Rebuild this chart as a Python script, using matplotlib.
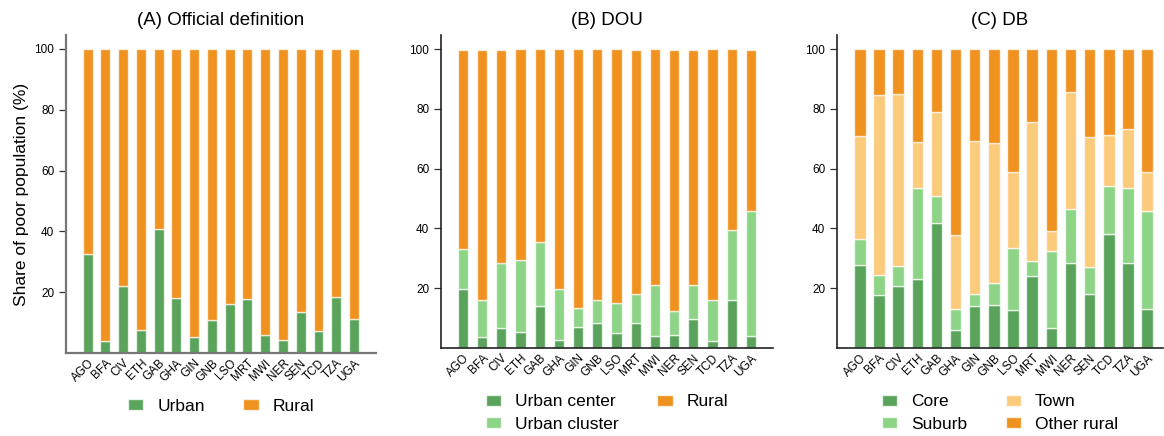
import numpy as np
import matplotlib.pyplot as plt

plt.rcParams["font.family"] = ["Liberation Sans", "DejaVu Sans"]

countries = ["AGO", "BFA", "CIV", "ETH", "GAB", "GHA", "GIN", "GNB",
             "LSO", "MRT", "MWI", "NER", "SEN", "TCD", "TZA", "UGA"]

# (A) official definition
urban_a = [32.7, 3.8, 22.2, 7.7, 40.7, 18.0, 5.2, 10.8,
           16.0, 17.7, 5.8, 4.2, 13.5, 7.1, 18.4, 11.1]
rural_a = [100 - u for u in urban_a]

# (B) degree of urbanisation
center_b = [19.8, 3.8, 6.6, 5.5, 14.2, 2.7, 6.9, 8.5,
            4.9, 8.3, 4.0, 4.2, 9.7, 2.2, 15.9, 4.0]
cluster_b = [13.4, 12.3, 21.8, 23.8, 21.4, 17.0, 6.6, 7.7,
             10.3, 9.6, 17.1, 8.1, 11.4, 13.9, 23.5, 41.7]
rural_b = [66.5, 83.6, 71.3, 70.7, 64.4, 80.3, 86.5, 83.8,
           84.8, 81.8, 78.9, 87.4, 78.6, 83.9, 60.6, 54.0]

# (C) degree of urbanisation, finer classes
core_c = [27.9, 17.8, 20.7, 23.1, 41.7, 6.0, 13.9, 14.4,
          12.7, 24.2, 6.6, 28.3, 17.9, 38.3, 28.4, 13.1]
suburb_c = [8.6, 6.7, 6.8, 30.5, 9.2, 7.2, 4.1, 7.4,
            20.8, 5.0, 25.7, 18.2, 9.3, 16.0, 25.0, 32.6]
town_c = [34.3, 60.1, 57.4, 15.2, 28.0, 24.5, 51.2, 46.7,
          25.5, 46.3, 6.7, 39.1, 43.3, 17.1, 20.0, 13.1]
other_c = [29.2, 15.4, 15.1, 31.2, 21.1, 62.3, 30.8, 31.5,
           41.0, 24.5, 61.0, 14.4, 29.5, 28.6, 26.6, 41.2]

DARK_GREEN = "#59a35a"
LIGHT_GREEN = "#8dd487"
LIGHT_ORANGE = "#fbca7b"
ORANGE = "#f0921f"

W, H = 1164, 436
fig = plt.figure(figsize=(W / 100, H / 100), dpi=100)


def make_ax(left, right, bottom, top):
    return fig.add_axes([left / W, (H - bottom) / H, (right - left) / W, (bottom - top) / H])


def stack(ax, series, colors, labels, width, spine_color, spine_lw):
    x = np.arange(len(countries))
    base = np.zeros(len(countries))
    for vals, c, lab in zip(series, colors, labels):
        vals = np.array(vals)
        ax.bar(x, vals, width, bottom=base, color=c, label=lab,
               edgecolor=(1, 1, 1, 0.7), linewidth=1.0)
        base += vals
    ax.set_xticks(x)
    ax.set_xticklabels(countries, rotation=45, ha="right", rotation_mode="anchor", fontsize=8.5)
    ax.tick_params(axis="x", length=0, pad=3)
    ax.set_yticks([20, 40, 60, 80, 100])
    ax.tick_params(axis="y", labelsize=8.5, length=5, width=0.9, color="#333333")
    for s in ["top", "right"]:
        ax.spines[s].set_visible(False)
    for s in ["left", "bottom"]:
        ax.spines[s].set_color(spine_color)
        ax.spines[s].set_linewidth(spine_lw)


legend_kw = dict(loc="center", ncol=2, frameon=False, fontsize=12.5,
                 handlelength=0.9, handleheight=0.6, columnspacing=2.2,
                 labelspacing=0.45)

ax1 = make_ax(66, 376, 353, 35)
stack(ax1, [urban_a, rural_a], [DARK_GREEN, ORANGE], ["Urban", "Rural"], 0.56,
      "#777777", 1.6)
ax1.set_xlim(-1.22, 16.24)
ax1.set_ylim(0, 104.6)
ax1.set_title("(A) Official definition", fontsize=13.5, pad=7)
ax1.set_ylabel("Share of poor population (%)", fontsize=12.5)
ax1.legend(bbox_to_anchor=(0.5, -0.167), **legend_kw)

ax2 = make_ax(441, 773, 348, 35)
stack(ax2, [center_b, cluster_b, rural_b], [DARK_GREEN, LIGHT_GREEN, ORANGE],
      ["Urban center", "Urban cluster", "Rural"], 0.54, "#222222", 1.2)
ax2.set_xlim(-1.14, 16.15)
ax2.set_ylim(0, 104.7)
ax2.set_title("(B) DOU", fontsize=13.5, pad=7)
ax2.legend(bbox_to_anchor=(0.5, -0.208), **legend_kw)

ax3 = make_ax(837, 1163, 348, 35)
stack(ax3, [core_c, suburb_c, town_c, other_c],
      [DARK_GREEN, LIGHT_GREEN, LIGHT_ORANGE, ORANGE],
      ["Core", "Suburb", "Town", "Other rural"], 0.6, "#222222", 1.2)
ax3.set_xlim(-1.19, 15.83)
ax3.set_ylim(0, 104.7)
ax3.set_title("(C) DB", fontsize=13.5, pad=7)
ax3.legend(bbox_to_anchor=(0.5, -0.208), **legend_kw)

fig.savefig("out.png", dpi=100)
